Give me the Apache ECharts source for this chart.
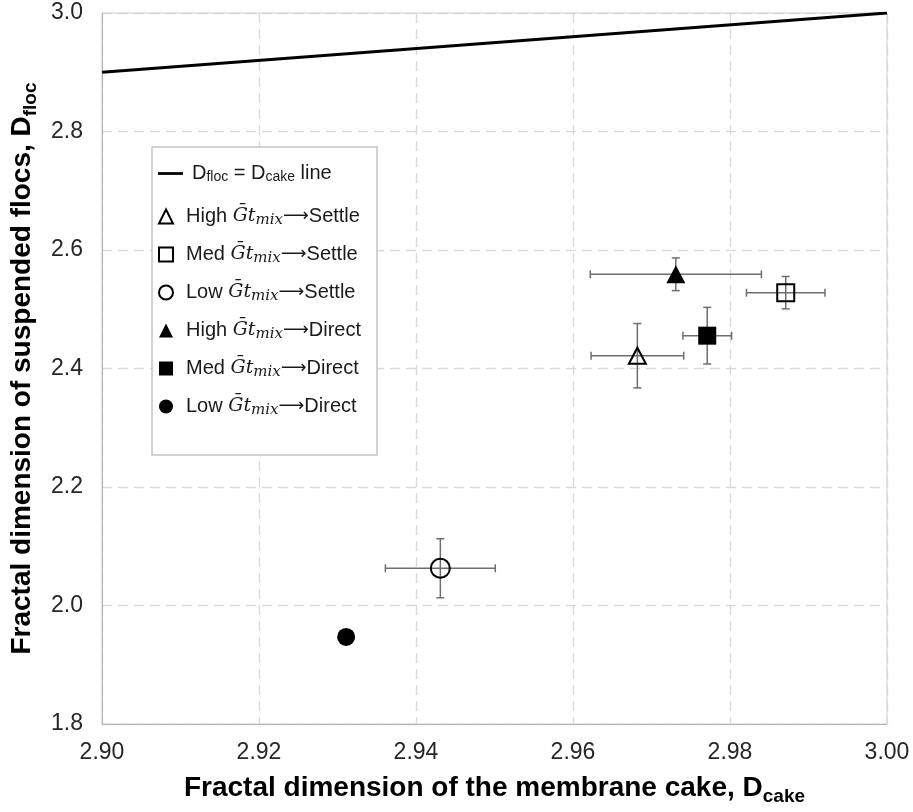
<!DOCTYPE html>
<html>
<head>
<meta charset="utf-8">
<script src="https://cdn.jsdelivr.net/npm/echarts@6/dist/echarts.min.js"></script>
<style>html,body{margin:0;padding:0;background:#fff}#c{width:913px;height:812px}</style>
</head>
<body>
<div id="c"></div>
<script>
// ---- data ----
const seriesKeys = ['highSettle', 'medSettle', 'lowSettle', 'highDirect', 'medDirect', 'lowDirect'];
const seriesLevel = ['High', 'Med', 'Low', 'High', 'Med', 'Low'];
const seriesRoute = ['Settle', 'Settle', 'Settle', 'Direct', 'Direct', 'Direct'];
const xVals = [2.9682, 2.9871, 2.9431, 2.9731, 2.9771, 2.9311];
const yVals = [2.4216, 2.528, 2.0628, 2.559, 2.4554, 1.947];
const xErr = [0.0059, 0.0050, 0.0070, 0.0109, 0.0031, 0.0005];
const yErr = [0.0543, 0.0273, 0.0498, 0.0276, 0.0478, 0.0040];
const lineX = [2.90, 3.00];
const lineY = [2.90, 3.00];
const xTicks = [2.90, 2.92, 2.94, 2.96, 2.98, 3.00];
const yTicks = [1.8, 2.0, 2.2, 2.4, 2.6, 2.8, 3.0];

// ---- styling ----
const symbols = ['triangle', 'rect', 'circle', 'triangle', 'rect', 'circle'];
const hollow = [true, true, true, false, false, false];
const sizes = [[17, 16], 17, 19, [19, 18], 18, 18];
const FONT = 'Liberation Sans, Arial, sans-serif';
const MATH = 'DejaVu Serif, serif';
const TXT = '#1a1a1a';

const chart = echarts.init(document.getElementById('c'), null, {renderer: 'canvas'});

const lineName = 'line';
const series = [];
series.push({
  name: lineName,
  type: 'line',
  data: lineX.map((x, i) => [x, lineY[i]]),
  symbol: 'none',
  lineStyle: {color: '#000', width: 2.8},
  itemStyle: {color: '#000'},
  z: 3
});
// error bars
series.push({
  type: 'custom',
  name: 'errbars',
  data: xVals.map((x, i) => [x, yVals[i], xErr[i], yErr[i]]),
  renderItem: function (params, api) {
    const x = api.value(0), y = api.value(1), ex = api.value(2), ey = api.value(3);
    const c = api.coord([x, y]);
    const l = api.coord([x - ex, y]), r = api.coord([x + ex, y]);
    const t = api.coord([x, y + ey]), b = api.coord([x, y - ey]);
    const cap = 4;
    const st = {stroke: '#6e6e6e', lineWidth: 1.5};
    const mk = (x1, y1, x2, y2) => ({type: 'line', shape: {x1, y1, x2, y2}, style: st});
    return {
      type: 'group',
      children: [
        mk(l[0], c[1], r[0], c[1]),
        mk(l[0], c[1] - cap, l[0], c[1] + cap),
        mk(r[0], c[1] - cap, r[0], c[1] + cap),
        mk(c[0], t[1], c[0], b[1]),
        mk(c[0] - cap, t[1], c[0] + cap, t[1]),
        mk(c[0] - cap, b[1], c[0] + cap, b[1])
      ]
    };
  },
  encode: {x: 0, y: 1},
  z: 4,
  silent: true
});
seriesKeys.forEach((k, i) => {
  series.push({
    name: k,
    type: 'scatter',
    data: [[xVals[i], yVals[i]]],
    symbol: symbols[i],
    symbolSize: sizes[i],
    itemStyle: hollow[i]
      ? {color: 'rgba(255,255,255,0)', borderColor: '#000', borderWidth: 2, opacity: 1}
      : {color: '#000', borderColor: '#000', borderWidth: 0, opacity: 1},
    z: 5
  });
});

const legendLabel = {};
legendLabel[lineName] = '{n|D}{sub|floc}{n| = D}{sub|cake}{n| line}';
seriesKeys.forEach((k, i) => {
  legendLabel[k] = '{n|' + seriesLevel[i] + ' }{g|G\u0304}{g|t}{mi|mix}{ar|\u27F6}{n|' + seriesRoute[i] + '}';
});
const legendRich = {
  n: {fontSize: 20, fontFamily: FONT, color: TXT, lineHeight: 24},
  sub: {fontSize: 14, fontFamily: FONT, color: TXT, lineHeight: 17, padding: [7, 0, 0, 0]},
  g: {fontSize: 19, fontFamily: MATH, fontStyle: 'italic', color: TXT, lineHeight: 24},
  mi: {fontSize: 15, fontFamily: MATH, fontStyle: 'italic', color: TXT, lineHeight: 16, padding: [8, 0, 0, 0]},
  ar: {fontSize: 18, fontFamily: 'DejaVu Sans, sans-serif', color: TXT, lineHeight: 24}
};
const titleRich = {
  b: {fontSize: 28, fontWeight: 'bold', fontFamily: FONT, color: '#000'},
  bs: {fontSize: 19, fontWeight: 'bold', fontFamily: FONT, color: '#000', padding: [16, 0, 0, 0]}
};

chart.setOption({
  animation: false,
  backgroundColor: '#fff',
  grid: {left: 102, right: 26, top: 13, bottom: 88, show: true, borderColor: '#cfcfcf', borderWidth: 1},
  xAxis: {
    type: 'value', min: 2.90, max: 3.00, interval: 0.02,
    axisLine: {show: true, lineStyle: {color: '#b5b5b5', width: 1}},
    axisTick: {show: false},
    splitLine: {show: true, lineStyle: {color: '#d9d9d9', type: [10, 6], width: 1.3}},
    axisLabel: {color: '#262626', fontSize: 23, fontFamily: FONT, margin: 17,
      formatter: v => { const m = xTicks.find(t => Math.abs(t - v) < 1e-6); return (m !== undefined ? m : v).toFixed(2); }},
    name: '{b|Fractal dimension of the membrane cake, D}{bs|cake}',
    nameLocation: 'middle', nameGap: 47,
    nameTextStyle: {rich: titleRich}
  },
  yAxis: {
    type: 'value', min: 1.8, max: 3.0, interval: 0.2,
    axisLine: {show: true, lineStyle: {color: '#b5b5b5', width: 1}},
    axisTick: {show: false},
    splitLine: {show: true, lineStyle: {color: '#d9d9d9', type: [10, 6], width: 1.3}},
    axisLabel: {color: '#262626', fontSize: 23, fontFamily: FONT, margin: 19,
      formatter: v => { const m = yTicks.find(t => Math.abs(t - v) < 1e-6); return (m !== undefined ? m : v).toFixed(1); }},
    name: '{b|Fractal dimension of suspended flocs, D}{bs|floc}',
    nameLocation: 'middle', nameGap: 62,
    nameTextStyle: {rich: titleRich}
  },
  graphic: [{
    type: 'rect', z: 50, silent: true,
    shape: {x: 152, y: 147, width: 225, height: 308},
    style: {fill: '#fff', stroke: '#c4c4c4', lineWidth: 1.5}
  }],
  legend: [{
    orient: 'vertical', left: 158, top: 163, padding: 0, z: 60,
    itemWidth: 25, itemHeight: 14,
    data: [{name: lineName, icon: 'path://M0,5.6 L25,5.6 L25,8.4 L0,8.4 Z'}],
    formatter: name => legendLabel[name],
    textStyle: {color: TXT, fontSize: 20, fontFamily: FONT, padding: [0, 0, 0, 4], rich: legendRich}
  }, {
    orient: 'vertical', left: 158, top: 205, padding: 0, z: 60,
    itemWidth: 14, itemHeight: 14, itemGap: 15,
    data: seriesKeys.map((k, i) => ({name: k, icon: symbols[i]})),
    formatter: name => legendLabel[name],
    textStyle: {color: TXT, fontSize: 20, fontFamily: FONT, padding: [0, 0, 0, 8], rich: legendRich}
  }],
  series: series
});
</script>
</body>
</html>
